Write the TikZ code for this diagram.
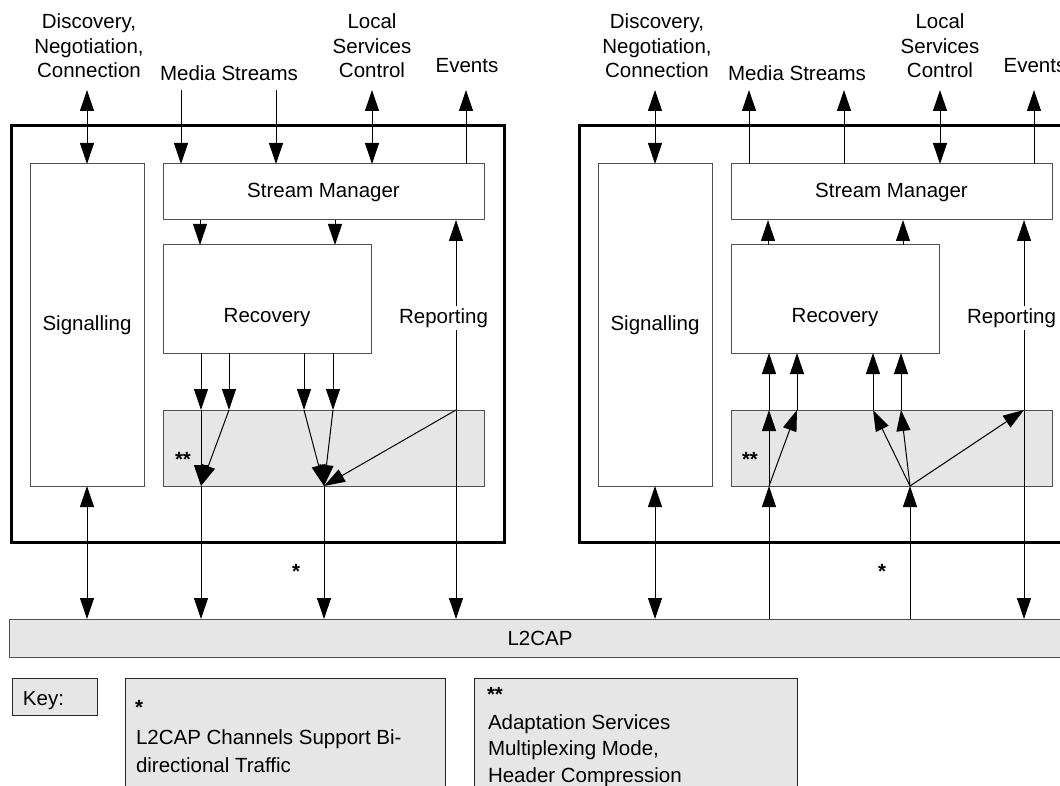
\documentclass[tikz,border=0pt]{standalone}
\usepackage{fontspec}
\setmainfont{Liberation Sans}
\usetikzlibrary{arrows.meta,calc}
\definecolor{boxgray}{HTML}{E6E6E6}
\definecolor{edge}{HTML}{505050}
\begin{document}
\begin{tikzpicture}[x=1pt,y=-1pt,
  every node/.style={inner sep=0pt, outer sep=0pt},
  font=\fontsize{20.5}{24.5}\selectfont,
  box/.style={draw=edge, line width=1pt, fill=white, anchor=north west},
  graybox/.style={box, fill=boxgray},
  keybox/.style={graybox, draw=black!85},
  outerbox/.style={draw=black, line width=3pt, anchor=north west},
  conn/.style={draw=black, line width=1pt},
  >={Triangle[length=21pt,width=14pt]},
  lbl/.style={align=center, anchor=south},
  txt/.style={anchor=base west},
  startxt/.style={anchor=base west, font=\fontsize{20.5}{24.5}\selectfont\bfseries},
  starmark/.style={anchor=base, font=\fontsize{20.5}{24.5}\selectfont\bfseries},
]
\useasboundingbox (0,0) rectangle (1060,786);
\clip (0,0) rectangle (1060,786);

% ---------- L2CAP ----------
\node[graybox, minimum width=1070, minimum height=38] (l2) at (9,619) {};
\node (l2t) at (540,638) {L2CAP};

% ---------- key ----------
\node[keybox, minimum width=85, minimum height=37] (key) at (12,678) {};
\node[txt] (keyt) at (23,705) {Key:};
\node[keybox, minimum width=320, minimum height=140] (k1) at (125,678) {};
\node[startxt] (k1a) at (135,714) {*};
\node[txt] (k1b) at (136,744) {L2CAP Channels Support Bi-};
\node[txt] (k1c) at (136,772) {directional Traffic};
\node[keybox, minimum width=323, minimum height=140] (k2) at (474,678) {};
\node[startxt] (k2a) at (487,701) {**};
\node[txt] (k2b) at (488,729) {Adaptation Services};
\node[txt] (k2c) at (488,755) {Multiplexing Mode,};
\node[txt] (k2d) at (488,782) {Header Compression};

% ---------- left block ----------
\node[outerbox, minimum width=493, minimum height=416] (blkL) at (11,126) {};
\node[box, minimum width=114, minimum height=322] (sigL) at (30,164) {Signalling};
\node[box, minimum width=321, minimum height=56] (smL) at (163,164) {Stream Manager};
\node[box, minimum width=208, minimum height=108] (recL) at (163,245) {};
\node (recLt) at (267,318) {Recovery};
\node[graybox, minimum width=321, minimum height=76] (adL) at (163,410) {};
\node[startxt] (ssL) at (175,466) {**};

\node[lbl] (discL) at (89,78) {Discovery,\\Negotiation,\\Connection};
\node[lbl] (mediaL) at (229,81) {Media Streams};
\node[lbl] (localL) at (372,78) {Local\\Services\\Control};
\node[lbl] (evL) at (467,73) {Events};

\coordinate (dtL) at (87,90);
\coordinate (m1L) at (181,90);
\coordinate (m2L) at (276,90);
\coordinate (ltL) at (372,90);
\coordinate (etL) at (466,90);
\coordinate (s1L) at (200,232);
\coordinate (s2L) at (335,232);
\coordinate (r1L) at (201,380);
\coordinate (r2L) at (229,380);
\coordinate (r3L) at (304,380);
\coordinate (r4L) at (333,380);
\coordinate (aL) at (201,486);
\coordinate (bL) at (324,486);
\coordinate (repL) at (456,317);

\draw[conn,<->] (dtL) -- (sigL.north);
\draw[conn,->] (m1L) -- (m1L |- smL.north);
\draw[conn,->] (m2L) -- (m2L |- smL.north);
\draw[conn,<->] (ltL) -- (ltL |- smL.north);
\draw[conn,->] (etL |- smL.north) -- (etL);
\draw[conn,->] (s1L |- smL.south) -- (s1L |- recL.north);
\draw[conn,->] (s2L |- smL.south) -- (s2L |- recL.north);
\draw[conn,->] (r1L |- recL.south) -- (r1L |- adL.north);
\draw[conn,->] (r2L |- recL.south) -- (r2L |- adL.north);
\draw[conn,->] (r3L |- recL.south) -- (r3L |- adL.north);
\draw[conn,->] (r4L |- recL.south) -- (r4L |- adL.north);
\draw[conn,->] (r1L |- adL.north) -- (aL);
\draw[conn,->] (r2L |- adL.north) -- (aL);
\draw[conn,->] (r3L |- adL.north) -- (bL);
\draw[conn,->] (r4L |- adL.north) -- (bL);
\draw[conn,->] (repL |- adL.north) -- (bL);
\draw[conn,<->] (sigL.south) -- (sigL.south |- l2.north);
\draw[conn,->] (aL) -- (aL |- l2.north);
\draw[conn,->] (bL) -- (bL |- l2.north);
\draw[conn,<->] (repL |- smL.south) -- (repL |- l2.north);
\node[fill=white, inner sep=2pt] (repLt) at (443.5,318) {Reporting};
\node[starmark] (stL) at (296,578) {*};

% ---------- right block ----------
\begin{scope}[xshift=568pt]
\node[outerbox, minimum width=493, minimum height=416] (blkR) at (11,126) {};
\node[box, minimum width=114, minimum height=322] (sigR) at (30,164) {Signalling};
\node[box, minimum width=321, minimum height=56] (smR) at (163,164) {Stream Manager};
\node[box, minimum width=208, minimum height=108] (recR) at (163,245) {};
\node (recRt) at (267,318) {Recovery};
\node[graybox, minimum width=321, minimum height=76] (adR) at (163,410) {};
\node[startxt] (ssR) at (174,466) {**};

\node[lbl] (discR) at (89,78) {Discovery,\\Negotiation,\\Connection};
\node[lbl] (mediaR) at (229,81) {Media Streams};
\node[lbl] (localR) at (372,78) {Local\\Services\\Control};
\node[lbl] (evR) at (467,73) {Events};

\coordinate (dtR) at (87,90);
\coordinate (m1R) at (181,90);
\coordinate (m2R) at (276,90);
\coordinate (ltR) at (372,90);
\coordinate (etR) at (466,90);
\coordinate (s1R) at (200,232);
\coordinate (s2R) at (335,232);
\coordinate (r1R) at (201,380);
\coordinate (r2R) at (229,380);
\coordinate (r3R) at (305,380);
\coordinate (r4R) at (333,380);
\coordinate (aR) at (201,486);
\coordinate (bR) at (342,486);
\coordinate (repR) at (456,317);

\draw[conn,<->] (dtR) -- (sigR.north);
\draw[conn,<-] (m1R) -- (m1R |- smR.north);
\draw[conn,<-] (m2R) -- (m2R |- smR.north);
\draw[conn,<->] (ltR) -- (ltR |- smR.north);
\draw[conn,->] (etR |- smR.north) -- (etR);
\draw[conn,->] (s1R |- recR.north) -- (s1R |- smR.south);
\draw[conn,->] (s2R |- recR.north) -- (s2R |- smR.south);
\draw[conn,->] (r1R |- adR.north) -- (r1R |- recR.south);
\draw[conn,->] (r2R |- adR.north) -- (r2R |- recR.south);
\draw[conn,->] (r3R |- adR.north) -- (r3R |- recR.south);
\draw[conn,->] (r4R |- adR.north) -- (r4R |- recR.south);
\draw[conn,->] (aR) -- (r1R |- adR.north);
\draw[conn,->] (aR) -- (r2R |- adR.north);
\draw[conn,->] (bR) -- (r3R |- adR.north);
\draw[conn,->] (bR) -- (r4R |- adR.north);
\draw[conn,->] (bR) -- (repR |- adR.north);
\draw[conn,<->] (sigR.south) -- (sigR.south |- l2.north);
\draw[conn,->] (aR |- l2.north) -- (aR);
\draw[conn,->] (bR |- l2.north) -- (bR);
\draw[conn,<->] (repR |- smR.south) -- (repR |- l2.north);
\node[fill=white, inner sep=2pt] (repRt) at (443.5,318) {Reporting};
\node[starmark] (stR) at (314,578) {*};
\end{scope}
\end{tikzpicture}
\end{document}
